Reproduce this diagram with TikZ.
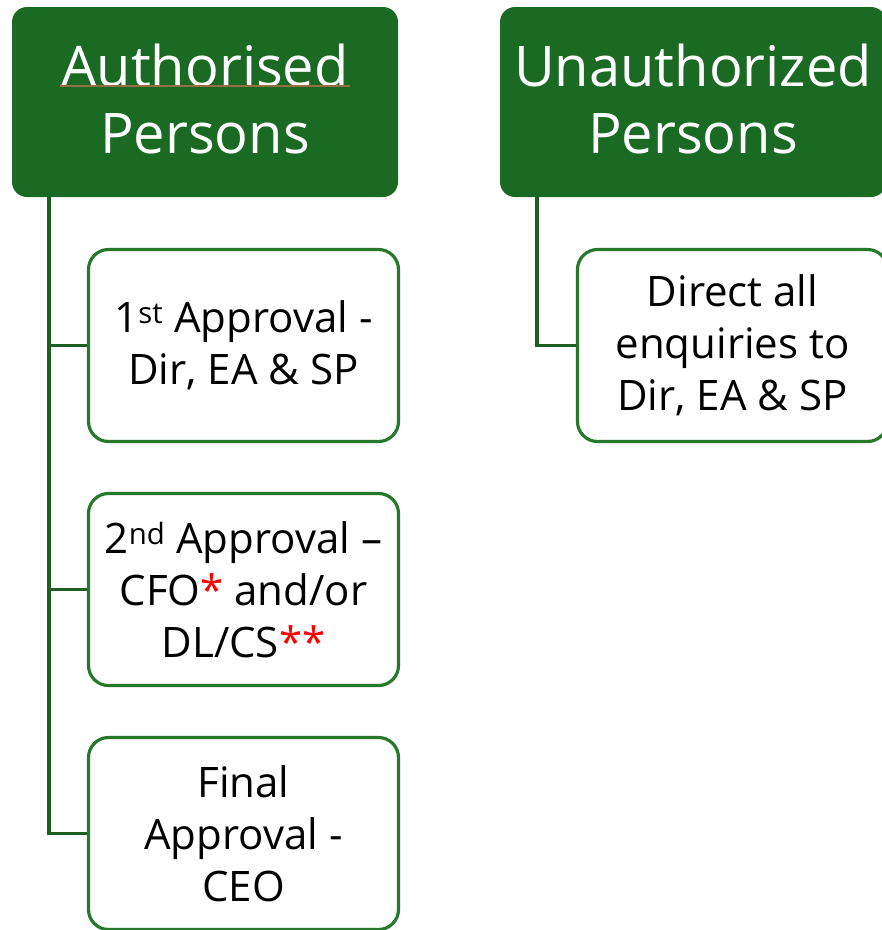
\documentclass[tikz,border=0pt]{standalone}
\usepackage{fontspec}
\setmainfont{Open Sans}
\definecolor{hdr}{RGB}{27,106,36}
\definecolor{bord}{RGB}{40,120,44}
\definecolor{connc}{RGB}{30,96,34}
\definecolor{squig}{RGB}{150,110,70}
\definecolor{astred}{RGB}{255,0,0}
\begin{document}
\begin{tikzpicture}[x=1pt,y=-1pt,
  head/.style={fill=hdr, draw=none, rounded corners=15pt, minimum width=386pt, minimum height=190pt,
    text=white, align=center, font=\fontsize{56}{67}\selectfont, inner sep=0pt, text depth=6pt},
  child/.style={draw=bord, line width=3.2pt, fill=white, rounded corners=20pt, minimum width=310pt,
    minimum height=192pt, align=center, font=\fontsize{42}{52}\selectfont, inner sep=0pt},
  connline/.style={draw=connc, line width=3.5pt}]
\useasboundingbox (0,0) rectangle (882,930);
\clip (0,0) rectangle (882,930);
\fill[white] (0,0) rectangle (882,930);
\node[head] (h1) at (205,102) {Authorised\\Persons};
\node[head] (h2) at (693,102) {Unauthorized\\Persons};
\draw[squig, line width=1.2pt] (60,86) -- (350,86);
\node[child] (c1) at (243.5,345.5) {1\textsuperscript{st} Approval -\\Dir, EA \& SP};
\node[child] (c2) at (243.5,589.5) {2\textsuperscript{nd} Approval –\\CFO\textcolor{astred}{*} and/or\\DL/CS\textcolor{astred}{**}};
\node[child] (c3) at (243.5,833.5) {Final\\Approval -\\CEO};
\node[child] (r1) at (732.5,345.5) {Direct all\\enquiries to\\Dir, EA \& SP};
\draw[connline] ([xshift=37pt]h1.south west) |- (c3.west);
\draw[connline] ([xshift=37pt]h1.south west) |- (c1.west);
\draw[connline] ([xshift=37pt]h1.south west) |- (c2.west);
\draw[connline] ([xshift=37pt]h2.south west) |- (r1.west);
\end{tikzpicture}
\end{document}
